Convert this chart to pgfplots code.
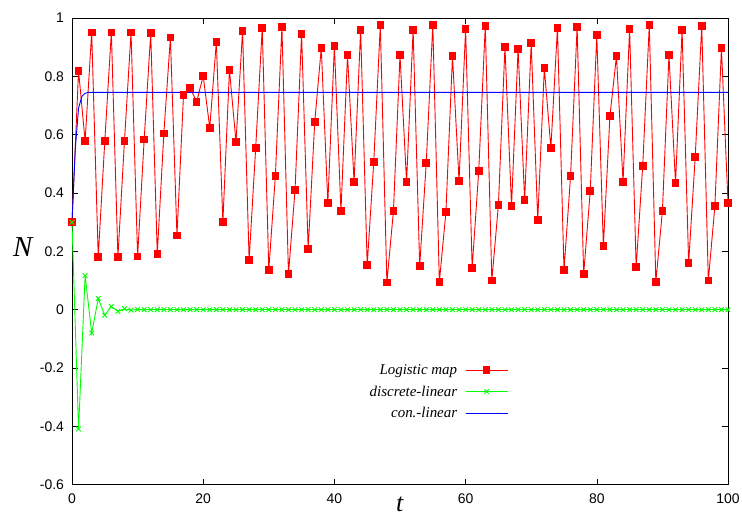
\documentclass[border=0pt]{standalone}
\usepackage{fontspec}
\setmainfont{Liberation Sans}
\newfontfamily\timesf{Liberation Serif}
\usepackage{pgfplots}
\pgfplotsset{compat=1.18}
\begin{document}
\begin{tikzpicture}
\path[use as bounding box] (-72bp,-32bp) rectangle (670bp,484.7bp);
\begin{axis}[
  at={(0,0)}, anchor=south west,
  scale only axis, width=656bp, height=466.7bp,
  xmin=0, xmax=100, ymin=-0.6, ymax=1,
  xtick={0,20,40,60,80,100},
  ytick={-0.6,-0.4,-0.2,0,0.2,0.4,0.6,0.8,1},
  yticklabels={-0.6,-0.4,-0.2,0,0.2,0.4,0.6,0.8,1},
  xtick pos=both, ytick pos=both,
  xticklabel pos=lower, yticklabel pos=left,
  tick align=inside, major tick length=6bp,
  tick style={black, line width=0.6bp},
  axis line style={line width=0.8bp},
  /pgf/number format/assume math mode=true,
  ticklabel style={font=\fontsize{14}{16}\selectfont},
  yticklabel style={xshift=-4.5bp},
  xticklabel style={yshift=-5.5bp},
  xlabel={\textit{t}}, ylabel={\textit{N}},
  xlabel style={font=\timesf\fontsize{26}{27}\selectfont, at={(axis description cs:0.5,-0.041)}, anchor=center},
  ylabel style={font=\timesf\fontsize{29}{30}\selectfont, rotate=-90, at={(axis description cs:-0.074,0.51)}, anchor=center},
  clip=false,
  legend style={draw=none, fill=none, at={(axis cs:66.5,-0.18)}, anchor=north east,
    inner sep=0pt, font=\timesf\itshape\fontsize{15}{15}\selectfont, cells={anchor=east}, row sep=6bp},
  legend plot pos=right,
]
\addplot[red, line width=0.9bp, mark=square*, mark size=3.3bp, mark options={solid, fill=red},
  legend image code/.code={\path (0bp,0bp); \draw[draw=red, line width=0.9bp, mark=square*, mark size=3.3bp, mark options={draw=red, fill=red}, mark repeat=2, mark phase=2] plot coordinates {(6bp,0bp) (27bp,0bp) (48bp,0bp)};}] coordinates {
(0,0.300) (1,0.819) (2,0.578) (3,0.951) (4,0.181) (5,0.578) (6,0.951) (7,0.181) (8,0.579) (9,0.951)
(10,0.183) (11,0.583) (12,0.948) (13,0.191) (14,0.604) (15,0.933) (16,0.254) (17,0.736) (18,0.760) (19,0.713)
(20,0.801) (21,0.623) (22,0.918) (23,0.301) (24,0.822) (25,0.575) (26,0.955) (27,0.170) (28,0.554) (29,0.966)
(30,0.136) (31,0.458) (32,0.969) (33,0.122) (34,0.410) (35,0.945) (36,0.208) (37,0.643) (38,0.897) (39,0.366)
(40,0.904) (41,0.338) (42,0.873) (43,0.438) (44,0.959) (45,0.153) (46,0.506) (47,0.976) (48,0.093) (49,0.338)
(50,0.873) (51,0.438) (52,0.959) (53,0.150) (54,0.503) (55,0.976) (56,0.095) (57,0.335) (58,0.870) (59,0.441)
(60,0.962) (61,0.143) (62,0.475) (63,0.973) (64,0.100) (65,0.359) (66,0.901) (67,0.355) (68,0.894) (69,0.376)
(70,0.914) (71,0.307) (72,0.829) (73,0.554) (74,0.966) (75,0.136) (76,0.458) (77,0.969) (78,0.122) (79,0.407)
(80,0.942) (81,0.218) (82,0.664) (83,0.870) (84,0.438) (85,0.962) (86,0.146) (87,0.493) (88,0.976) (89,0.095)
(90,0.338) (91,0.873) (92,0.434) (93,0.959) (94,0.160) (95,0.523) (96,0.973) (97,0.100) (98,0.355) (99,0.897)
(100,0.366)
};
\addlegendentry{Logistic map}
\addplot[green, line width=0.9bp, mark=x, mark size=3.3bp, mark options={solid},
  legend image code/.code={\path (0bp,0bp); \draw[draw=green, line width=0.9bp, mark=x, mark size=3.3bp, mark options={draw=green}, mark repeat=2, mark phase=2] plot coordinates {(6bp,0bp) (27bp,0bp) (48bp,0bp)};}] coordinates {
(0,0.300) (1,-0.409) (2,0.117) (3,-0.080) (4,0.038) (5,-0.019) (6,0.011) (7,-0.006) (8,0.003) (9,-0.0015)
(10,0.0008) (11,0) (12,0) (13,0) (14,0) (15,0) (16,0) (17,0) (18,0) (19,0)
(20,0) (21,0) (22,0) (23,0) (24,0) (25,0) (26,0) (27,0) (28,0) (29,0)
(30,0) (31,0) (32,0) (33,0) (34,0) (35,0) (36,0) (37,0) (38,0) (39,0)
(40,0) (41,0) (42,0) (43,0) (44,0) (45,0) (46,0) (47,0) (48,0) (49,0)
(50,0) (51,0) (52,0) (53,0) (54,0) (55,0) (56,0) (57,0) (58,0) (59,0)
(60,0) (61,0) (62,0) (63,0) (64,0) (65,0) (66,0) (67,0) (68,0) (69,0)
(70,0) (71,0) (72,0) (73,0) (74,0) (75,0) (76,0) (77,0) (78,0) (79,0)
(80,0) (81,0) (82,0) (83,0) (84,0) (85,0) (86,0) (87,0) (88,0) (89,0)
(90,0) (91,0) (92,0) (93,0) (94,0) (95,0) (96,0) (97,0) (98,0) (99,0)
(100,0)
};
\addlegendentry{discrete-linear}
\addplot[blue, line width=0.9bp,
  legend image code/.code={\path (0bp,0bp); \draw[draw=blue, line width=0.9bp] (6bp,0bp) -- (48bp,0bp);}] coordinates {
(0,0.300) (0.5,0.550) (1,0.691) (1.5,0.731) (2,0.742) (2.5,0.745) (3,0.745) (100,0.745)
};
\addlegendentry{con.-linear}
\end{axis}
\end{tikzpicture}
\end{document}
